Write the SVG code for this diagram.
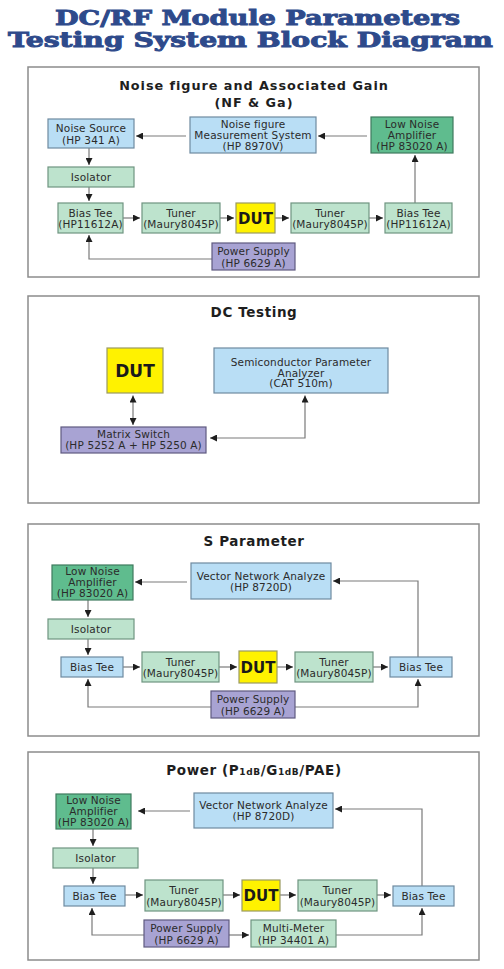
<svg xmlns="http://www.w3.org/2000/svg" width="504" height="969" viewBox="0 0 504 969">
<style>
.bg{fill:#ffffff}
.panel{fill:#ffffff;stroke:#8c8c8c;stroke-width:1.5}
.ttl{font-family:"DejaVu Serif","Liberation Serif",serif;font-weight:bold;font-size:20px;fill:#2E4A8B;stroke:#2E4A8B;stroke-width:0.9;text-anchor:middle}
.sec{font-family:"DejaVu Sans","Liberation Sans",sans-serif;font-weight:bold;font-size:13.5px;letter-spacing:0.6px;fill:#1e1e1e;text-anchor:middle}
.sec2{font-family:"DejaVu Sans","Liberation Sans",sans-serif;font-weight:bold;font-size:12.8px;letter-spacing:0.95px;fill:#1e1e1e;text-anchor:middle}
.t{font-family:"DejaVu Sans","Liberation Sans",sans-serif;font-size:10.5px;letter-spacing:0.15px;fill:#2b2b2b;text-anchor:middle}
.dut{font-family:"DejaVu Sans","Liberation Sans",sans-serif;font-weight:bold;font-size:15px;fill:#1a1a1a;text-anchor:middle}
.dutL{font-family:"DejaVu Sans","Liberation Sans",sans-serif;font-weight:bold;font-size:17px;fill:#1a1a1a;text-anchor:middle}
.blue{fill:#B9DEF5;stroke:#6E8AA0;stroke-width:1.2}
.green{fill:#BDE3CD;stroke:#6E9480;stroke-width:1.2}
.dgreen{fill:#5FBC8E;stroke:#3E7B5E;stroke-width:1.2}
.purple{fill:#A8A3D3;stroke:#5F5A80;stroke-width:1.2}
.yellow{fill:#FFF200;stroke:#9A9A60;stroke-width:1.2}
.c{fill:none;stroke:#7a7a7a;stroke-width:1.2;marker-end:url(#ah)}
.cb{fill:none;stroke:#7a7a7a;stroke-width:1.2;marker-end:url(#ah);marker-start:url(#ah)}
</style>
<defs>
<marker id="ah" viewBox="0 0 10 10" refX="10" refY="5" markerWidth="8" markerHeight="7" markerUnits="userSpaceOnUse" orient="auto-start-reverse">
<path d="M0,0 L10,5 L0,10 z" fill="#1e1e1e"/>
</marker>
</defs>
<rect class="bg" x="0" y="0" width="504" height="969"/>

<g id="title">
<text class="ttl" x="257.5" y="25" textLength="405" lengthAdjust="spacingAndGlyphs">DC/RF Module Parameters</text>
<text class="ttl" x="250.5" y="47" textLength="485" lengthAdjust="spacingAndGlyphs">Testing System Block Diagram</text>
</g>

<!-- Panels -->
<g id="panel-nf">
<rect class="panel" x="28" y="67" width="451" height="210"/>
<text class="sec2" x="254" y="90">Noise figure and Associated Gain</text>
<text class="sec2" x="254" y="106.5">(NF &amp; Ga)</text>
</g>
<g id="panel-dc">
<rect class="panel" x="28" y="296" width="451" height="207"/>
<text class="sec" x="254" y="317">DC Testing</text>
</g>
<g id="panel-s">
<rect class="panel" x="28" y="524" width="451" height="212"/>
<text class="sec" x="254" y="546">S Parameter</text>
</g>
<g id="panel-pw">
<rect class="panel" x="28" y="752" width="451" height="208"/>
<text class="sec" x="254" y="775">Power (P<tspan font-size="9">1dB</tspan>/G<tspan font-size="9">1dB</tspan>/PAE)</text>
</g>

<!-- Connectors -->
<g id="connectors">
<path class="c" d="M367,136 H318"/>
<path class="c" d="M186,136 H136"/>
<path class="c" d="M89,148 V165"/>
<path class="c" d="M89,187 V201"/>
<path class="c" d="M123,218 H140"/>
<path class="c" d="M220,218 H234"/>
<path class="c" d="M275,218 H289"/>
<path class="c" d="M369,218 H383"/>
<path class="c" d="M415,203 V155"/>
<path class="c" d="M212,259 H89 V235"/>

<path class="cb" d="M133,395.5 V425"/>
<path class="cb" d="M210,438 H305 V395.5"/>

<path class="c" d="M187,582 H135"/>
<path class="c" d="M418,657 V581 H333"/>
<path class="c" d="M88,600 V617"/>
<path class="c" d="M88,639 V655"/>
<path class="c" d="M123,667 H140"/>
<path class="c" d="M219,667 H237"/>
<path class="c" d="M277,667 H293"/>
<path class="c" d="M373,667 H388"/>
<path class="c" d="M211,707 H88 V679"/>
<path class="c" d="M295,707 H418 V679"/>

<path class="c" d="M190,811 H138"/>
<path class="c" d="M422,886 V809 H335"/>
<path class="c" d="M93,829 V846"/>
<path class="c" d="M93,868 V884"/>
<path class="c" d="M125,895 H143"/>
<path class="c" d="M223,895 H240"/>
<path class="c" d="M280,895 H296"/>
<path class="c" d="M377,895 H391"/>
<path class="c" d="M144,935 H92 V908"/>
<path class="c" d="M229,935 H249"/>
<path class="c" d="M336,935 H422 V908"/>
</g>

<!-- Panel 1 nodes -->
<g id="nf-noise-source"><rect class="blue" x="48" y="119" width="86" height="29"/><text class="t" x="91" y="132">Noise Source</text><text class="t" x="91" y="143.5">(HP 341 A)</text></g>
<g id="nf-meas"><rect class="blue" x="190" y="117" width="126" height="36"/><text class="t" x="253" y="127.5">Noise figure</text><text class="t" x="253" y="138.5">Measurement System</text><text class="t" x="253" y="149.5">(HP 8970V)</text></g>
<g id="nf-lna"><rect class="dgreen" x="371" y="117" width="82" height="36"/><text class="t" x="412" y="127.5">Low Noise</text><text class="t" x="412" y="138.5">Amplifier</text><text class="t" x="412" y="149.5">(HP 83020 A)</text></g>
<g id="nf-isolator"><rect class="green" x="48" y="167" width="86" height="20"/><text class="t" x="91" y="180.8">Isolator</text></g>
<g id="nf-bias1"><rect class="green" x="58" y="203" width="65" height="30"/><text class="t" x="90.5" y="216.5">Bias Tee</text><text class="t" x="90.5" y="228">(HP11612A)</text></g>
<g id="nf-tuner1"><rect class="green" x="142" y="203" width="78" height="30"/><text class="t" x="181" y="216.5">Tuner</text><text class="t" x="181" y="228">(Maury8045P)</text></g>
<g id="nf-dut"><rect class="yellow" x="236" y="203" width="39" height="30"/><text class="dut" x="255.5" y="224">DUT</text></g>
<g id="nf-tuner2"><rect class="green" x="291" y="203" width="78" height="30"/><text class="t" x="330" y="216.5">Tuner</text><text class="t" x="330" y="228">(Maury8045P)</text></g>
<g id="nf-bias2"><rect class="green" x="385" y="203" width="67" height="30"/><text class="t" x="418.5" y="216.5">Bias Tee</text><text class="t" x="418.5" y="228">(HP11612A)</text></g>
<g id="nf-power"><rect class="purple" x="212" y="243" width="83" height="27"/><text class="t" x="253.5" y="255">Power Supply</text><text class="t" x="253.5" y="266.5">(HP 6629 A)</text></g>

<!-- Panel 2 nodes -->
<g id="dc-dut"><rect class="yellow" x="107" y="348" width="56" height="45"/><text class="dutL" x="135" y="377">DUT</text></g>
<g id="dc-spa"><rect class="blue" x="214" y="348" width="174" height="45"/><text class="t" x="301" y="366">Semiconductor Parameter</text><text class="t" x="301" y="376.5">Analyzer</text><text class="t" x="301" y="387">(CAT 510m)</text></g>
<g id="dc-matrix"><rect class="purple" x="61" y="427" width="145" height="26"/><text class="t" x="133.5" y="438.3">Matrix Switch</text><text class="t" x="133.5" y="449.3">(HP 5252 A + HP 5250 A)</text></g>

<!-- Panel 3 nodes -->
<g id="s-lna"><rect class="dgreen" x="52" y="565" width="81" height="35"/><text class="t" x="92.5" y="575">Low Noise</text><text class="t" x="92.5" y="586">Amplifier</text><text class="t" x="92.5" y="597">(HP 83020 A)</text></g>
<g id="s-vna"><rect class="blue" x="191" y="563" width="140" height="36"/><text class="t" x="261" y="579.5">Vector Network Analyze</text><text class="t" x="261" y="590.5">(HP 8720D)</text></g>
<g id="s-isolator"><rect class="green" x="48" y="619" width="86" height="20"/><text class="t" x="91" y="632.8">Isolator</text></g>
<g id="s-bias1"><rect class="blue" x="61" y="657" width="62" height="20"/><text class="t" x="92" y="670.8">Bias Tee</text></g>
<g id="s-tuner1"><rect class="green" x="142" y="652" width="77" height="30"/><text class="t" x="180.5" y="665.5">Tuner</text><text class="t" x="180.5" y="677">(Maury8045P)</text></g>
<g id="s-dut"><rect class="yellow" x="239" y="651" width="38" height="32"/><text class="dut" x="258" y="672.5">DUT</text></g>
<g id="s-tuner2"><rect class="green" x="295" y="652" width="78" height="30"/><text class="t" x="334" y="665.5">Tuner</text><text class="t" x="334" y="677">(Maury8045P)</text></g>
<g id="s-bias2"><rect class="blue" x="390" y="657" width="62" height="20"/><text class="t" x="421" y="670.8">Bias Tee</text></g>
<g id="s-power"><rect class="purple" x="211" y="691" width="84" height="27"/><text class="t" x="253" y="703">Power Supply</text><text class="t" x="253" y="714.5">(HP 6629 A)</text></g>

<!-- Panel 4 nodes -->
<g id="p-lna"><rect class="dgreen" x="56" y="794" width="75" height="35"/><text class="t" x="93.5" y="804">Low Noise</text><text class="t" x="93.5" y="815">Amplifier</text><text class="t" x="93.5" y="826">(HP 83020 A)</text></g>
<g id="p-vna"><rect class="blue" x="194" y="793" width="139" height="35"/><text class="t" x="263.5" y="809">Vector Network Analyze</text><text class="t" x="263.5" y="820">(HP 8720D)</text></g>
<g id="p-isolator"><rect class="green" x="53" y="848" width="85" height="20"/><text class="t" x="95.5" y="861.8">Isolator</text></g>
<g id="p-bias1"><rect class="blue" x="64" y="886" width="61" height="20"/><text class="t" x="94.5" y="899.8">Bias Tee</text></g>
<g id="p-tuner1"><rect class="green" x="145" y="880" width="78" height="31"/><text class="t" x="184" y="894">Tuner</text><text class="t" x="184" y="905.5">(Maury8045P)</text></g>
<g id="p-dut"><rect class="yellow" x="242" y="880" width="38" height="31"/><text class="dut" x="261" y="901">DUT</text></g>
<g id="p-tuner2"><rect class="green" x="298" y="880" width="79" height="31"/><text class="t" x="337.5" y="894">Tuner</text><text class="t" x="337.5" y="905.5">(Maury8045P)</text></g>
<g id="p-bias2"><rect class="blue" x="393" y="886" width="61" height="20"/><text class="t" x="423.5" y="899.8">Bias Tee</text></g>
<g id="p-power"><rect class="purple" x="144" y="920" width="85" height="27"/><text class="t" x="186.5" y="932">Power Supply</text><text class="t" x="186.5" y="943.5">(HP 6629 A)</text></g>
<g id="p-meter"><rect class="green" x="251" y="920" width="85" height="27"/><text class="t" x="293.5" y="932">Multi-Meter</text><text class="t" x="293.5" y="943.5">(HP 34401 A)</text></g>
</svg>
